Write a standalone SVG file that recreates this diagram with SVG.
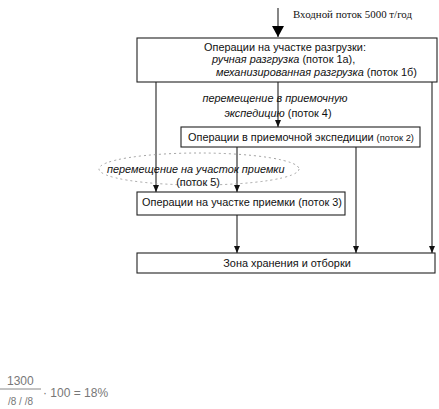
<svg xmlns="http://www.w3.org/2000/svg" width="439" height="409" viewBox="0 0 439 409">
<defs>
<marker id="ah" markerWidth="8" markerHeight="8" refX="7" refY="4" orient="auto" markerUnits="userSpaceOnUse">
<path d="M0,1 L7,4 L0,7 Z" fill="#111"/>
</marker>
<marker id="big" markerWidth="12" markerHeight="14" refX="11" refY="6" orient="auto" markerUnits="userSpaceOnUse">
<path d="M0,0 L11,6 L0,12 Z" fill="#000"/>
</marker>
<style>
.box{fill:#fff;stroke:#222;stroke-width:1.1}
.t{font-family:"Liberation Sans",Arial,sans-serif;font-size:10.9px;fill:#111}
.i{font-style:italic}
.s{font-size:9.3px}
.ln{stroke:#222;stroke-width:1.1;fill:none}
</style>
</defs>
<rect width="439" height="409" fill="#fff"/>
<g id="connectors">
<line class="ln" x1="278" y1="8" x2="278" y2="37" stroke-width="3" marker-end="url(#big)"/>
<line class="ln" x1="156" y1="82" x2="156" y2="192" marker-end="url(#ah)"/>
<line class="ln" x1="278" y1="82" x2="278" y2="127" marker-end="url(#ah)"/>
<line class="ln" x1="432" y1="82" x2="432" y2="253" marker-end="url(#ah)"/>
<line class="ln" x1="237" y1="147" x2="237" y2="192" marker-end="url(#ah)"/>
<line class="ln" x1="356" y1="147" x2="356" y2="253" marker-end="url(#ah)"/>
<line class="ln" x1="237" y1="215" x2="237" y2="253" marker-end="url(#ah)"/>
<ellipse cx="199" cy="169" rx="100" ry="16" fill="none" stroke="#999" stroke-width="0.9" stroke-dasharray="2 3"/>
</g>
<g id="input-label">
<text x="293" y="18" font-family="Liberation Serif,serif" font-size="10.9" fill="#111">Входной поток 5000 т/год</text>
</g>
<g id="unload">
<rect class="box" x="137" y="38" width="300" height="44"/>
<text class="t" x="285" y="51" text-anchor="middle">Операции на участке разгрузки:</text>
<text class="t" x="212" y="63"><tspan class="i">ручная разгрузка</tspan>  (поток 1а),</text>
<text class="t" x="216" y="76"><tspan class="i">механизированная разгрузка</tspan> (поток 1б)</text>
</g>
<g id="flow4">
<text class="t i" x="275" y="102" text-anchor="middle">перемещение в приемочную</text>
<text class="t" x="278" y="117" text-anchor="middle"><tspan class="i">экспедицию</tspan> (поток 4)</text>
</g>
<g id="expedition">
<rect class="box" x="181" y="127" width="239" height="20"/>
<text class="t" x="301" y="141" text-anchor="middle">Операции в приемочной экспедиции <tspan class="s">(поток 2)</tspan></text>
</g>
<g id="flow5">
<text class="t i" x="107" y="173">перемещение на участок приемки</text>
<text class="t" x="198" y="186" text-anchor="middle">(поток 5)</text>
</g>
<g id="receiving">
<rect class="box" x="137" y="192" width="208" height="23"/>
<text class="t" x="242" y="206" text-anchor="middle">Операции на участке приемки (поток 3)</text>
</g>
<g id="storage">
<rect class="box" x="137" y="253" width="298" height="20"/>
<text class="t" x="287" y="267" text-anchor="middle">Зона хранения и отборки</text>
</g>
<g id="formula" fill="#777" font-family="Liberation Sans,Arial,sans-serif">
<text x="7" y="385" font-size="12">1300</text>
<line x1="0" y1="389" x2="41" y2="389" stroke="#888" stroke-width="1"/>
<text x="8" y="405" font-size="10">/8 / /8</text>
<text x="43" y="397" font-size="12">· 100 = 18%</text>
</g>
</svg>
